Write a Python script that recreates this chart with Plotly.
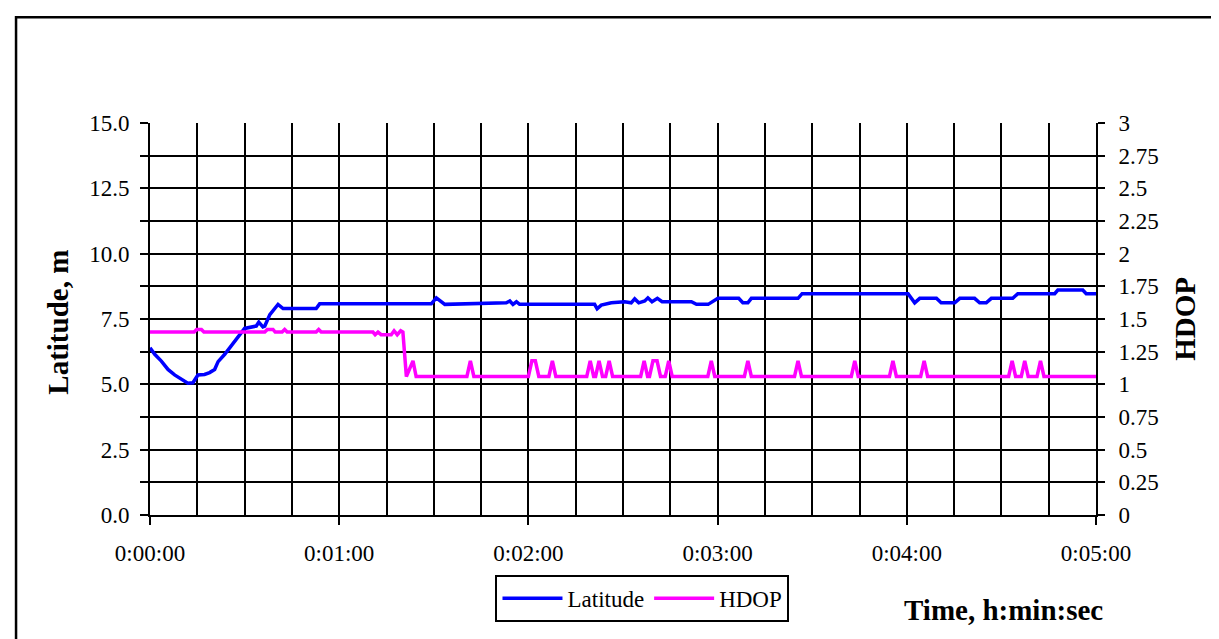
import plotly.graph_objects as go

# Latitude trace (seconds from start, metres)
lat_time = [0, 1.5, 3.6, 5.7, 7.8, 9.9, 12.0, 13.6, 15.2, 17.3, 18.9, 20.5, 21.6, 23.7,
            25.8, 27.9, 30.0, 33.7, 34.5, 35.8, 36.4, 38.0, 40.6, 42.2, 52.7, 53.8, 89.2,
            90.8, 93.5, 113.0, 114.1, 115.1, 116.2, 117.2, 141.0, 141.8, 143.1, 146.3,
            150.5, 152.6, 153.7, 155.0, 156.9, 157.9, 159.2, 160.9, 162.4, 171.7, 173.3,
            177.0, 178.9, 180.1, 186.7, 188.0, 189.6, 190.7, 205.5, 206.8, 240.4, 242.5,
            244.1, 249.4, 250.9, 255.2, 256.8, 261.5, 263.1, 265.2, 266.8, 273.6, 275.2,
            286.9, 287.9, 295.8, 296.9, 300.0]
lat_value = [6.40, 6.15, 5.89, 5.57, 5.36, 5.19, 5.04, 5.06, 5.36, 5.38, 5.45, 5.57, 5.87, 6.15,
             6.47, 6.78, 7.14, 7.23, 7.38, 7.20, 7.23, 7.67, 8.06, 7.90, 7.90, 8.08, 8.08,
             8.31, 8.06, 8.12, 8.19, 8.06, 8.16, 8.06, 8.06, 7.89, 8.03, 8.12,
             8.16, 8.12, 8.27, 8.12, 8.19, 8.31, 8.16, 8.29, 8.16, 8.16, 8.06,
             8.06, 8.21, 8.29, 8.29, 8.12, 8.12, 8.29, 8.29, 8.47, 8.47, 8.12,
             8.29, 8.29, 8.12, 8.12, 8.29, 8.29, 8.12, 8.12, 8.29, 8.29, 8.47,
             8.47, 8.61, 8.61, 8.47, 8.47]

# HDOP trace
hdop_time = [0, 14.0, 14.8, 16.3, 17.1, 36.4, 37.2, 39.0, 39.7, 41.9, 42.7, 43.5, 52.7, 53.5,
             54.3, 70.7, 71.4, 72.3, 73.3, 76.5, 77.4, 78.4, 79.5, 80.2, 81.3, 83.4, 84.4,
             100.5, 101.6, 102.7, 120.0, 121.1, 122.2, 123.3, 126.5, 127.6, 128.7,
             138.5, 139.6, 140.7, 141.3, 142.4, 143.5, 144.5, 145.6, 146.7,
             155.6, 156.7, 157.8, 158.4, 159.5, 160.8, 161.9, 163.4, 164.5, 165.6,
             176.9, 178.0, 179.1, 188.5, 189.6, 190.7, 204.4, 205.5, 206.6,
             222.4, 223.5, 224.6, 234.5, 235.6, 236.7, 244.4, 245.5, 246.6,
             272.3, 273.4, 274.5, 276.3, 277.4, 278.5, 281.3, 282.4, 283.5, 300.0]
hdop_value = [1.40, 1.40, 1.42, 1.42, 1.40, 1.40, 1.42, 1.42, 1.40, 1.40, 1.42, 1.40, 1.40, 1.42,
              1.40, 1.40, 1.38, 1.40, 1.38, 1.38, 1.41, 1.38, 1.41, 1.40, 1.06, 1.18, 1.06,
              1.06, 1.18, 1.06, 1.06, 1.18, 1.18, 1.06, 1.06, 1.18, 1.06,
              1.06, 1.18, 1.06, 1.06, 1.18, 1.06, 1.06, 1.18, 1.06,
              1.06, 1.18, 1.06, 1.06, 1.18, 1.18, 1.06, 1.06, 1.18, 1.06,
              1.06, 1.18, 1.06, 1.06, 1.18, 1.06, 1.06, 1.18, 1.06,
              1.06, 1.18, 1.06, 1.06, 1.18, 1.06, 1.06, 1.18, 1.06,
              1.06, 1.18, 1.06, 1.06, 1.18, 1.06, 1.06, 1.18, 1.06, 1.06]

time_ticks = [0, 60, 120, 180, 240, 300]
time_labels = ["0:00:00", "0:01:00", "0:02:00", "0:03:00", "0:04:00", "0:05:00"]
lat_ticks = [0, 2.5, 5, 7.5, 10, 12.5, 15]
lat_labels = ["0.0", "2.5", "5.0", "7.5", "10.0", "12.5", "15.0"]
hdop_ticks = [0, 0.25, 0.5, 0.75, 1, 1.25, 1.5, 1.75, 2, 2.25, 2.5, 2.75, 3]
hdop_labels = ["0", "0.25", "0.5", "0.75", "1", "1.25", "1.5", "1.75", "2", "2.25", "2.5", "2.75", "3"]

FONT = "Liberation Serif"

fig = go.Figure()
fig.add_trace(go.Scatter(x=lat_time, y=lat_value, mode="lines", name="Latitude",
                         line=dict(color="#0000FF", width=3.5)))
fig.add_trace(go.Scatter(x=hdop_time, y=hdop_value, mode="lines", name="HDOP", yaxis="y2",
                         line=dict(color="#FF00FF", width=3.5)))

fig.update_layout(
    width=1219, height=639,
    margin=dict(l=142, r=131, t=115, b=131.5),
    paper_bgcolor="white", plot_bgcolor="white",
    font=dict(family=FONT, size=23, color="black"),
    xaxis=dict(range=[0, 300], tickvals=time_ticks, ticktext=time_labels,
               showline=True, linecolor="black", linewidth=2,
               ticks="outside", ticklen=8, tickwidth=2, tickcolor="black",
               ticklabelstandoff=8,
               showgrid=True, gridcolor="black", gridwidth=1.5, zeroline=False,
               minor=dict(tick0=0, dtick=15, showgrid=True, gridcolor="black",
                          gridwidth=1.5, ticks="")),
    yaxis=dict(range=[0, 15], tickvals=lat_ticks, ticktext=lat_labels,
               showline=True, linecolor="black", linewidth=2,
               ticks="outside", ticklen=8, tickwidth=2, tickcolor="black",
               ticklabelstandoff=6,
               showgrid=True, gridcolor="black", gridwidth=1.5, zeroline=False,
               minor=dict(tick0=0, dtick=1.25, showgrid=True, gridcolor="black",
                          gridwidth=1.5, ticks="outside", ticklen=8, tickwidth=2,
                          tickcolor="black")),
    yaxis2=dict(range=[0, 3], tickvals=hdop_ticks, ticktext=hdop_labels,
                overlaying="y", side="right",
                showline=True, linecolor="black", linewidth=2,
                ticks="outside", ticklen=7, tickwidth=2, tickcolor="black",
                ticklabelstandoff=9,
                showgrid=False, zeroline=False),
    legend=dict(orientation="h", x=0.5206, y=-0.2127, xanchor="center", yanchor="middle",
                bordercolor="black", borderwidth=2, bgcolor="white",
                itemwidth=60, font=dict(family=FONT, size=23)),
    showlegend=True,
)

fig.add_annotation(text="Latitude, m", xref="paper", yref="paper", x=-0.0973, y=0.493,
                   xanchor="center", yanchor="middle", textangle=-90, showarrow=False,
                   font=dict(family=FONT, size=29, weight="bold"))
fig.add_annotation(text="HDOP", xref="paper", yref="paper", x=1.0938, y=0.5,
                   xanchor="center", yanchor="middle", textangle=-90, showarrow=False,
                   font=dict(family=FONT, size=29, weight="bold"))
fig.add_annotation(text="Time, h:min:sec", xref="paper", yref="paper", x=0.9017, y=-0.2433,
                   xanchor="center", yanchor="middle", showarrow=False,
                   font=dict(family=FONT, size=29, weight="bold"))

# outer chart-area border
fig.add_shape(type="rect", xref="paper", yref="paper", x0=-0.1416, x1=1.1353, y0=-0.35, y1=1.27,
              line=dict(color="black", width=2.5), layer="below")

fig.write_html("out.html")
